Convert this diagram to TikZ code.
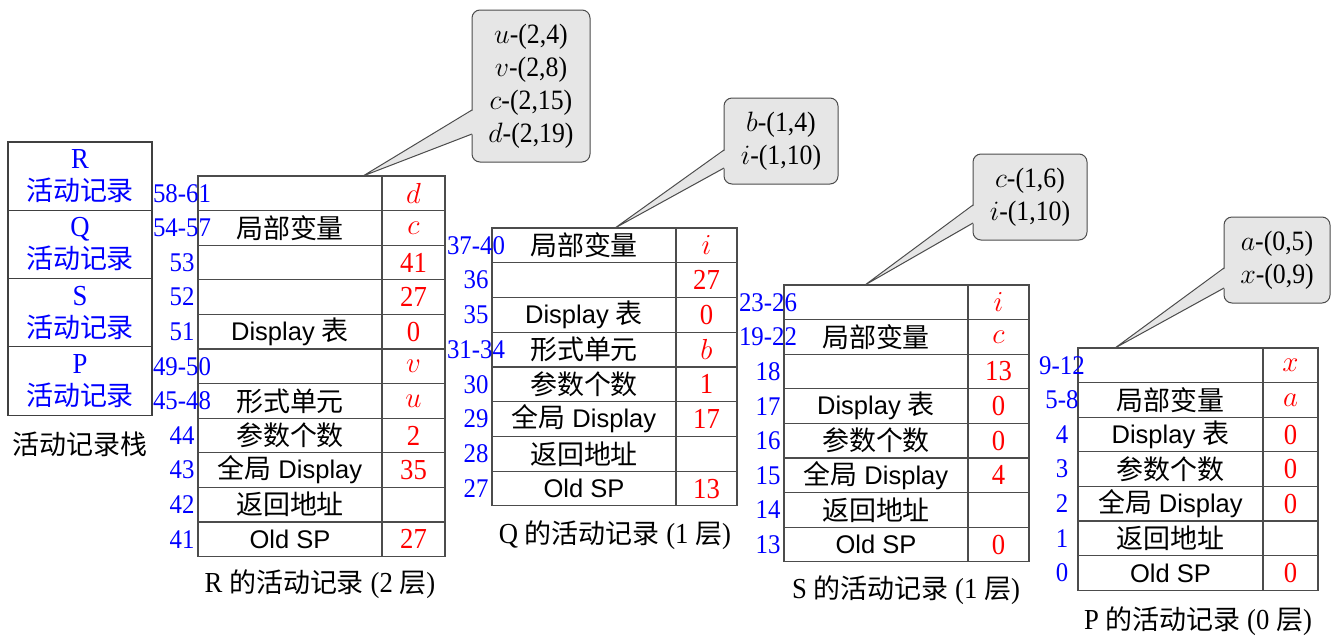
\RequirePackage{fix-cm}
\documentclass[tikz,border=0pt]{standalone}
\usepackage{fontspec}
\setmainfont[FakeStretch=0.92]{Liberation Serif}
\setsansfont[Scale=0.88]{Liberation Sans}
\newfontfamily\cjk[Scale=0.93]{Noto Sans CJK SC}
\usetikzlibrary{calc}
\newcommand\cellrow[8]{%
  \node[lcell, minimum width=#4pt, anchor=north west] (#1l) at (#2,#3) {#6};
  \node[rcell, minimum width=#5pt, anchor=north west] (#1r) at (#1l.north east) {#7};
  \node[addr] (#1a) at ($(#1l.west)+(-16,0)$) {#8};
}
% #1 note node, #2 tip coordinate, #3 top offset, #4 bottom offset
\newcommand\pointer[4]{%
  \fill[calloutfill] ($(#1.west)+(1.6,#3)$) -- (#2) -- ($(#1.west)+(1.6,#4)$) -- cycle;
  \draw[noteline] ($(#1.west)+(0,#3)$) -- (#2) -- ($(#1.west)+(0,#4)$);
}
\definecolor{calloutfill}{RGB}{230,230,230}
\tikzset{
  every node/.style={font=\fontsize{29}{33}\selectfont, inner sep=0pt, outer sep=0pt},
  lcell/.style={draw=black!70, line width=1.1pt, minimum height=34.6pt},
  rcell/.style={draw=black!70, line width=1.1pt, minimum height=34.6pt, text=red},
  addr/.style={text=blue, font=\fontsize{27}{30}\selectfont},
  stackcell/.style={draw=black!75, line width=1.1pt, minimum width=144pt, minimum height=68.3pt, align=center, text=blue, font=\fontsize{29}{32}\selectfont},
  notebox/.style={rectangle, rounded corners=8pt, draw=black!70, line width=1pt, fill=calloutfill, align=center, font=\fontsize{28}{33}\selectfont},
  noteline/.style={draw=black!70, line width=1pt, line join=miter}
}
\begin{document}
\begin{tikzpicture}[x=1pt,y=-1pt]
\useasboundingbox (0,0) rectangle (1335,635);
% stack
\node[stackcell, anchor=north west] (sR) at (8,142) {R\\{\cjk 活动记录}};
\node[stackcell, anchor=north] (sQ) at (sR.south) {Q\\{\cjk 活动记录}};
\node[stackcell, anchor=north] (sS) at (sQ.south) {S\\{\cjk 活动记录}};
\node[stackcell, anchor=north] (sP) at (sS.south) {P\\{\cjk 活动记录}};
\node (stk) at (80,444) {\cjk 活动记录栈};
% R record
\cellrow{ra}{198}{176}{184}{63}{}{$d$}{58-61}
\cellrow{rb}{198}{210.6}{184}{63}{\cjk 局部变量}{$c$}{54-57}
\cellrow{rc}{198}{245.2}{184}{63}{}{41}{53}
\cellrow{rd}{198}{279.8}{184}{63}{}{27}{52}
\cellrow{re}{198}{314.4}{184}{63}{\sffamily Display {\cjk 表}}{0}{51}
\cellrow{rf}{198}{349.0}{184}{63}{}{$v$}{49-50}
\cellrow{rg}{198}{383.6}{184}{63}{\cjk 形式单元}{$u$}{45-48}
\cellrow{rh}{198}{418.2}{184}{63}{\cjk 参数个数}{2}{44}
\cellrow{ri}{198}{452.8}{184}{63}{{\cjk 全局} \sffamily Display}{35}{43}
\cellrow{rj}{198}{487.4}{184}{63}{\cjk 返回地址}{}{42}
\cellrow{rk}{198}{522.0}{184}{63}{\sffamily Old SP}{27}{41}
\node (rcap) at (320,584) {R {\cjk 的活动记录} (2 {\cjk 层})};
% Q record
\cellrow{qa}{492}{228}{184}{61}{\cjk 局部变量}{$i$}{37-40}
\cellrow{qb}{492}{262.75}{184}{61}{}{27}{36}
\cellrow{qc}{492}{297.5}{184}{61}{\sffamily Display {\cjk 表}}{0}{35}
\cellrow{qd}{492}{332.25}{184}{61}{\cjk 形式单元}{$b$}{31-34}
\cellrow{qe}{492}{367}{184}{61}{\cjk 参数个数}{1}{30}
\cellrow{qf}{492}{401.75}{184}{61}{{\cjk 全局} \sffamily Display}{17}{29}
\cellrow{qg}{492}{436.5}{184}{61}{\cjk 返回地址}{}{28}
\cellrow{qh}{492}{471.25}{184}{61}{\sffamily Old SP}{13}{27}
\node (qcap) at (615,535) {Q {\cjk 的活动记录} (1 {\cjk 层})};
% S record
\cellrow{sa}{784}{285}{184}{61}{}{$i$}{23-26}
\cellrow{sb}{784}{319.6}{184}{61}{\cjk 局部变量}{$c$}{19-22}
\cellrow{sc}{784}{354.2}{184}{61}{}{13}{18}
\cellrow{sd}{784}{388.8}{184}{61}{\sffamily Display {\cjk 表}}{0}{17}
\cellrow{se}{784}{423.4}{184}{61}{\cjk 参数个数}{0}{16}
\cellrow{sf}{784}{458}{184}{61}{{\cjk 全局} \sffamily Display}{4}{15}
\cellrow{sg}{784}{492.6}{184}{61}{\cjk 返回地址}{}{14}
\cellrow{sh}{784}{527.2}{184}{61}{\sffamily Old SP}{0}{13}
\node (scap) at (906,590) {S {\cjk 的活动记录} (1 {\cjk 层})};
% P record
\cellrow{pa}{1078}{348}{185}{55}{}{$x$}{9-12}
\cellrow{pb}{1078}{382.6}{185}{55}{\cjk 局部变量}{$a$}{5-8}
\cellrow{pc}{1078}{417.2}{185}{55}{\sffamily Display {\cjk 表}}{0}{4}
\cellrow{pd}{1078}{451.8}{185}{55}{\cjk 参数个数}{0}{3}
\cellrow{pe}{1078}{486.4}{185}{55}{{\cjk 全局} \sffamily Display}{0}{2}
\cellrow{pf}{1078}{521}{185}{55}{\cjk 返回地址}{}{1}
\cellrow{pg}{1078}{555.6}{185}{55}{\sffamily Old SP}{0}{0}
\node (pcap) at (1198,621) {P {\cjk 的活动记录} (0 {\cjk 层})};
% callouts
\coordinate (rtip) at ($(ral.north west)+(165,0)$);
\coordinate (qtip) at ($(qal.north west)+(123,0)$);
\coordinate (stip) at ($(sal.north west)+(81,0)$);
\coordinate (ptip) at ($(pal.north west)+(37,0)$);
\node[notebox, minimum width=118pt, minimum height=152pt] (rnote) at (531,86) {$u$-(2,4)\\$v$-(2,8)\\$c$-(2,15)\\$d$-(2,19)};
\node[notebox, minimum width=114pt, minimum height=86pt] (qnote) at (781,141) {$b$-(1,4)\\$i$-(1,10)};
\node[notebox, minimum width=114pt, minimum height=86pt] (snote) at (1030,197) {$c$-(1,6)\\$i$-(1,10)};
\node[notebox, minimum width=106pt, minimum height=86pt] (pnote) at (1277,260) {$a$-(0,5)\\$x$-(0,9)};
\pointer{rnote}{rtip}{24}{48}
\pointer{qnote}{qtip}{9}{27}
\pointer{snote}{stip}{8}{26}
\pointer{pnote}{ptip}{8}{28}
\end{tikzpicture}
\end{document}
